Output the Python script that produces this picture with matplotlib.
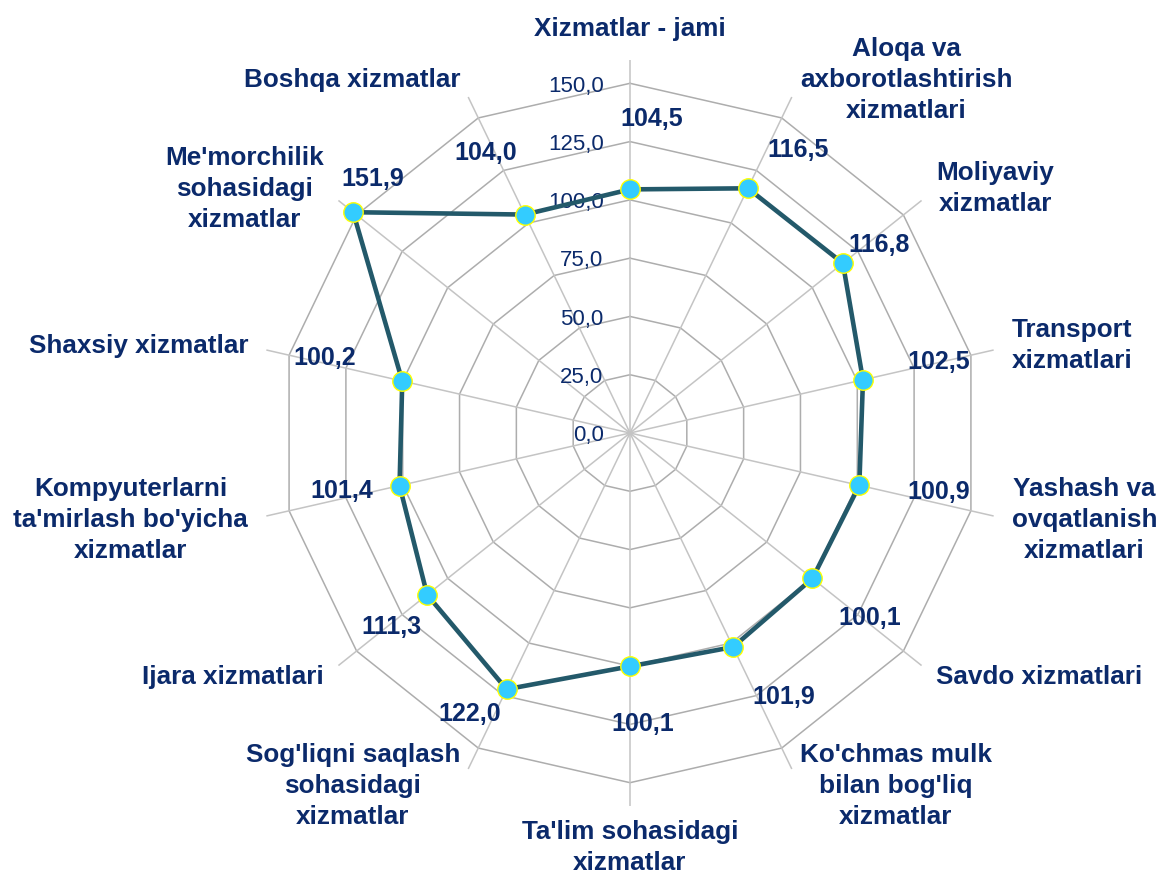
import numpy as np
import matplotlib.pyplot as plt

plt.rcParams['font.family'] = ['Liberation Sans', 'DejaVu Sans']

categories = [
    "Xizmatlar - jami",
    "Aloqa va\naxborotlashtirish\nxizmatlari",
    "Moliyaviy\nxizmatlar",
    "Transport\nxizmatlari",
    "Yashash va\novqatlanish\nxizmatlari",
    "Savdo xizmatlari",
    "Ko'chmas mulk\nbilan bog'liq\nxizmatlar",
    "Ta'lim sohasidagi\nxizmatlar",
    "Sog'liqni saqlash\nsohasidagi\nxizmatlar",
    "Ijara xizmatlari",
    "Kompyuterlarni\nta'mirlash bo'yicha\nxizmatlar",
    "Shaxsiy xizmatlar",
    "Me'morchilik\nsohasidagi\nxizmatlar",
    "Boshqa xizmatlar",
]
values = [104.5, 116.5, 116.8, 102.5, 100.9, 100.1, 101.9,
          100.1, 122.0, 111.3, 101.4, 100.2, 151.9, 104.0]
levels = [0, 25, 50, 75, 100, 125, 150]

# where each value label sits: angle shift (deg) and radius (axis units)
lab_shift = [4, 5, 1.5, 0, -2, -1, -4.5, -2.5, 4, -0.5, 1.5, 1, 6, -1.5]
lab_rad = [135, 141, 134, 136, 135, 130, 131, 125, 139, 132, 126, 135, 155, 135]

navy = '#0B2A6B'
line_col = '#23596A'

n = len(categories)
angles = np.arange(n) * 2 * np.pi / n

fig = plt.figure(figsize=(11.61, 8.77), dpi=100)
R = 373
cx, cy = 630, 877 - 433
ax = fig.add_axes([(cx - R) / 1161, (cy - R) / 877, 2 * R / 1161, 2 * R / 877],
                  projection='polar')
ax.set_theta_zero_location('N')
ax.set_theta_direction(-1)
ax.set_ylim(0, 160)
ax.grid(False)
ax.set_xticks([])
ax.set_yticks([])
ax.spines['polar'].set_visible(False)
ax.patch.set_visible(False)

# polygon grid rings
closed = np.append(angles, angles[0])
for lv in levels[1:]:
    ax.plot(closed, [lv] * len(closed), color='#ADADAD', lw=1.1, zorder=1)
# spokes
for a in angles:
    ax.plot([a, a], [0, 160], color='#C4C4C4', lw=1.1, zorder=1)

# tick labels
for lv in levels:
    ax.annotate(f"{lv:.1f}".replace('.', ','), xy=(0, lv), xytext=(-19, -2),
                textcoords='offset points', ha='right', va='center',
                fontsize=16, color=navy, zorder=2)

# data series
vals = np.append(values, values[0])
ax.plot(closed, vals, color=line_col, lw=3.3, zorder=3)
ax.plot(angles, values, 'o', ms=14, mfc='#33CCFF', mec='#FFFF00', mew=1.0,
        zorder=4)

# value labels
for a, v, d, r in zip(angles, values, lab_shift, lab_rad):
    ax.text(a + np.radians(d), r, f"{v:.1f}".replace('.', ','),
            ha='center', va='center', fontsize=18, fontweight='bold',
            color=navy, zorder=5)

# category labels
for a, lab in zip(angles, categories):
    s, c = np.sin(a), np.cos(a)
    r = 168
    if s > 0.1:
        ha = 'left'
    elif s < -0.1:
        ha = 'right'
    else:
        ha = 'center'
    if c > 0.95:
        va = 'bottom'
    elif c < -0.95:
        va = 'top'
        r = 166
    else:
        va = 'center'
    ax.text(a, r, lab, ha=ha, va=va, fontsize=18.8, fontweight='bold',
            color=navy, multialignment='center', linespacing=1.38)

fig.savefig('out.png', dpi=100)
